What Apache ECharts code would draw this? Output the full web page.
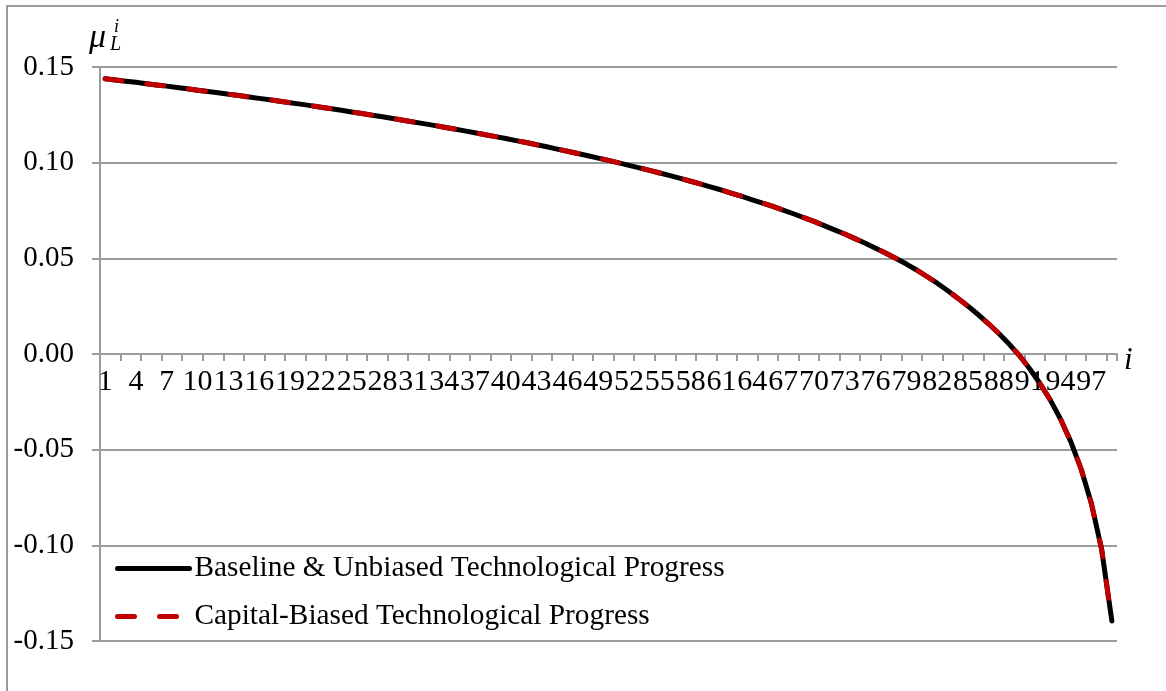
<!DOCTYPE html>
<html>
<head>
<meta charset="utf-8">
<title>mu_L^i</title>
<script src="https://cdn.jsdelivr.net/npm/echarts@6/dist/echarts.min.js"></script>
<style>
  html, body { margin: 0; padding: 0; background: #fff; }
  #main { width: 1166px; height: 691px; }
</style>
</head>
<body>
<div id="main"></div>
<script>
// categories i = 1..99
const categories = [];
for (let i = 1; i <= 99; i++) categories.push(String(i));

// values (both series lie on top of each other)
const baseline = [
  0.1439, 0.1432, 0.1426, 0.1420, 0.1413, 0.1406, 0.1400, 0.1393, 0.1386, 0.1379,
  0.1372, 0.1365, 0.1358, 0.1351, 0.1343, 0.1336, 0.1329, 0.1321, 0.1313, 0.1306,
  0.1298, 0.1290, 0.1282, 0.1274, 0.1265, 0.1257, 0.1248, 0.1240, 0.1231, 0.1222,
  0.1213, 0.1204, 0.1195, 0.1185, 0.1176, 0.1166, 0.1156, 0.1146, 0.1136, 0.1126,
  0.1115, 0.1105, 0.1094, 0.1083, 0.1071, 0.1060, 0.1048, 0.1036, 0.1024, 0.1012,
  0.0999, 0.0986, 0.0973, 0.0960, 0.0946, 0.0932, 0.0918, 0.0903, 0.0888, 0.0872,
  0.0857, 0.0840, 0.0824, 0.0806, 0.0789, 0.0771, 0.0752, 0.0733, 0.0713, 0.0693,
  0.0671, 0.0649, 0.0627, 0.0603, 0.0579, 0.0553, 0.0527, 0.0499, 0.0470, 0.0439,
  0.0405, 0.0370, 0.0332, 0.0292, 0.0250, 0.0205, 0.0158, 0.0107, 0.0052, -0.0008,
  -0.0077, -0.0154, -0.0240, -0.0340, -0.0458, -0.0600, -0.0780, -0.1020, -0.1395
];
const capitalBiased = baseline.slice();

const seriesNames = ['Baseline & Unbiased Technological Progress', 'Capital-Biased Technological Progress'];

const serif = '"Liberation Serif", "Times New Roman", serif';
const gridGray = '#9c9c9c';

const chart = echarts.init(document.getElementById('main'));

// the x axis sits at y = 0, which is halfway up the plot
const plotTop = 67, plotBottom = 50, plotHeight = 691 - plotTop - plotBottom;

const option = {
  backgroundColor: '#fff',
  animation: false,
  grid: { left: 100, right: 49, top: plotTop, bottom: plotBottom, containLabel: false },
  xAxis: {
    type: 'category',
    data: categories,
    boundaryGap: true,
    offset: -plotHeight / 2,
    axisLine: { onZero: false, lineStyle: { color: gridGray, width: 2 } },
    axisTick: { show: true, interval: 1, length: 7, inside: false, lineStyle: { color: gridGray, width: 2 } },
    axisLabel: { interval: 2, margin: 13, fontFamily: serif, fontSize: 30, color: '#000' },
    splitLine: { show: false }
  },
  yAxis: {
    type: 'value',
    min: -0.15,
    max: 0.15,
    interval: 0.05,
    axisLine: { show: true, lineStyle: { color: gridGray, width: 2 } },
    axisTick: { show: true, length: 8, lineStyle: { color: gridGray, width: 2 } },
    axisLabel: {
      margin: 26, fontFamily: serif, fontSize: 29, color: '#000',
      formatter: v => v.toFixed(2)
    },
    splitLine: { show: true, lineStyle: { color: gridGray, width: 2 } }
  },
  legend: {
    orient: 'vertical',
    left: 110,
    top: 549,
    itemWidth: 72,
    itemHeight: 14,
    itemGap: 19,
    itemStyle: { opacity: 0 },
    lineStyle: { width: 5 },
    textStyle: { fontFamily: serif, fontSize: 29.3, color: '#000' },
    data: seriesNames
  },
  graphic: [
    // outer frame
    { type: 'rect', shape: { x: 7, y: 6, width: 1200, height: 720 },
      style: { fill: 'none', stroke: gridGray, lineWidth: 2 }, silent: true },
    // axis titles: mu_L^i on the y axis, i on the x axis
    { type: 'text', left: 89, top: 21,
      style: { text: 'μ', font: 'italic 34px ' + serif, fill: '#000' } },
    { type: 'text', left: 110, top: 35,
      style: { text: 'L', font: 'italic 20px ' + serif, fill: '#000' } },
    { type: 'text', left: 114, top: 18,
      style: { text: 'i', font: 'italic 18px ' + serif, fill: '#000' } },
    { type: 'text', left: 1124, top: 345,
      style: { text: 'i', font: 'italic 31px ' + serif, fill: '#000' } }
  ],
  series: [
    {
      name: seriesNames[0],
      type: 'line',
      data: baseline,
      symbol: 'none',
      smooth: false,
      lineStyle: { color: '#000', width: 5, cap: 'round', join: 'round' },
      itemStyle: { color: '#000' },
      z: 2
    },
    {
      name: seriesNames[1],
      type: 'line',
      data: capitalBiased,
      symbol: 'none',
      smooth: false,
      lineStyle: { color: '#c00000', width: 5, type: [17, 25], cap: 'round', join: 'round' },
      itemStyle: { color: '#c00000' },
      z: 3
    }
  ]
};

chart.setOption(option);
</script>
</body>
</html>
